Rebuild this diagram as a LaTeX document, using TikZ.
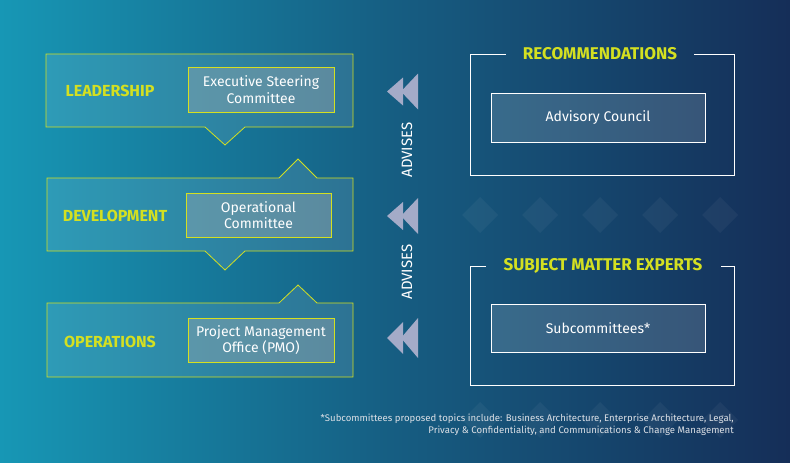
\documentclass[tikz,border=0pt]{standalone}
\usepackage{fontspec}
\setmainfont{Fira Sans}
\definecolor{ylw}{HTML}{D4E021}
\definecolor{bgl}{HTML}{1797B5}
\definecolor{bgr}{HTML}{152E58}
\definecolor{chev}{HTML}{A4ABC8}
\begin{document}
\begin{tikzpicture}[x=1pt,y=-1pt,
  outer/.style={draw=ylw,line width=0.8pt,fill=white,fill opacity=0.1,text opacity=1},
  inner/.style={draw=ylw,line width=0.8pt,fill=gray!60!white,fill opacity=0.35,text opacity=1,text=white,align=center,font=\fontsize{14}{16.5}\selectfont},
  lbl/.style={text=ylw,font=\bfseries\fontsize{16}{18}\selectfont},
  frame/.style={draw=white,line width=0.8pt},
  rbox/.style={draw=white,line width=0.8pt,fill=white,fill opacity=0.15,text opacity=1,text=white,font=\fontsize{14}{16}\selectfont},
  ttl/.style={text=ylw,font=\bfseries\fontsize{17}{19}\selectfont},
  advtxt/.style={text=white,rotate=90,font=\fontsize{15}{17}\selectfont},
  chevf/.style={fill=chev}]
\useasboundingbox (0,0) rectangle (790,463);
\shade[left color=bgl,right color=bgr,middle color=bgr!55!bgl] (0,0) rectangle (790,463);
% faint diamonds
\foreach \x in {480,540,600,660,720} \foreach \y in {215,420}
  \fill[white,opacity=0.045] (\x,\y-18) -- (\x+18,\y) -- (\x,\y+18) -- (\x-18,\y) -- cycle;
% left boxes with pointers
\path[outer] (46,54) -- (353,54) -- (353,127) -- (245,127) -- (225,145) -- (205,127) -- (46,127) -- cycle;
\path[outer] (47,178) -- (279,178) -- (298,159) -- (317,178) -- (353,178) -- (353,251) -- (245,251) -- (225,270) -- (205,251) -- (47,251) -- cycle;
\path[outer] (47,303) -- (279,303) -- (298,285) -- (317,303) -- (353,303) -- (353,377) -- (47,377) -- cycle;
\node[lbl] (l1) at (110,91) {LEADERSHIP};
\node[lbl] (l2) at (115,216) {DEVELOPMENT};
\node[lbl] (l3) at (110,342) {OPERATIONS};
\node[inner,minimum width=146pt,minimum height=45pt] (c1) at (261,89.5) {Executive Steering\\Committee};
\node[inner,minimum width=145pt,minimum height=44pt] (c2) at (258.5,215) {Operational\\Committee};
\node[inner,minimum width=146pt,minimum height=44pt] (c3) at (261,340) {Project Management\\Office (PMO)};
% chevrons
\foreach \yc/\h in {91.5/18,216/18,338/20}{
  \fill[chev] (387,\yc) -- (403,\yc-\h+4) -- (403,\yc+\h-4) -- cycle;
  \fill[chev] (401,\yc) -- (418,\yc-\h) -- (418,\yc+\h) -- cycle;}
\node[advtxt] (a1) at (407,150) {ADVISES};
\node[advtxt] (a2) at (407,272) {ADVISES};
% right frames
\draw[frame] (506,54) -- (470,54) -- (470,175) -- (734,175) -- (734,54) -- (694,54);
\node[ttl] (t1) at (600,54) {RECOMMENDATIONS};
\node[rbox,minimum width=214pt,minimum height=49pt] (r1) at (598,117.5) {Advisory Council};
\draw[frame] (486,266) -- (470,266) -- (470,385) -- (734,385) -- (734,266) -- (721,266);
\node[ttl] (t2) at (603,266) {SUBJECT MATTER EXPERTS};
\node[rbox,minimum width=214pt,minimum height=48pt] (r2) at (598,328) {Subcommittees*};
\node[text=white!85!bgr,align=right,anchor=north east,font=\fontsize{9.6}{12}\selectfont,inner sep=0pt] (fn) at (734,414) {*Subcommittees proposed topics include: Business Architecture, Enterprise Architecture, Legal,\\Privacy \& Confidentiality, and Communications \& Change Management};
\end{tikzpicture}
\end{document}
